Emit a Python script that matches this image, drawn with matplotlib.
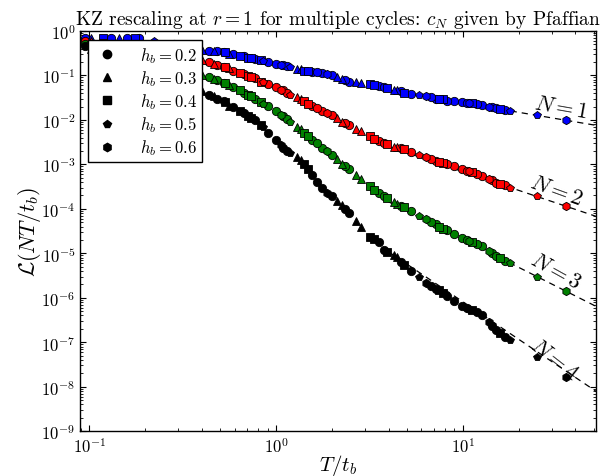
import matplotlib
matplotlib.use("Agg")
import matplotlib.pyplot as plt
from matplotlib.lines import Line2D

plt.rcParams['font.family'] = 'serif'
plt.rcParams['font.serif'] = ['cmr10']
plt.rcParams['mathtext.fontset'] = 'cm'
plt.rcParams['axes.formatter.use_mathtext'] = True

# T/t_b values for each h_b
x_h02 = [0.0952, 0.131, 0.160, 0.285, 0.438, 0.483, 0.589, 0.772, 0.906, 1.0, 1.09,
         1.56, 1.76, 1.99, 2.46, 3.56, 5.27, 7.17, 8.95, 9.88, 12.6, 14.3,
         0.185, 0.527, 0.674, 1.145, 1.66, 2.34, 3.78, 4.66, 6.75, 8.21, 10.5, 11.9, 15.0, 16.8]
x_h03 = [0.1025, 0.145, 0.351, 0.402, 1.30, 2.25, 2.68, 4.44,
         0.466, 0.561, 1.36, 2.12, 2.85, 4.28]
x_h04 = [0.119, 0.176, 0.533, 0.642, 0.708, 0.832, 1.41, 3.18, 3.92, 4.83, 7.82, 15.8,
         0.735, 1.48, 3.34, 7.44, 11.2]
x_h05 = [0.223, 1.19, 17.8, 24.9, 0.852, 5.82]
x_h06 = [6.34, 10.8, 35.6, 1.063, 1.87, 13.8]

# L(NT/t_b), one list per (h_b, N)
y_h02 = {
    1: [0.71, 0.68, 0.68, 0.52, 0.36, 0.35, 0.30, 0.24, 0.196, 0.177, 0.168, 0.117, 0.111,
        0.100, 0.073, 0.057, 0.039, 0.030, 0.026, 0.025, 0.0212, 0.0191,
        0.68, 0.33, 0.27, 0.159, 0.117, 0.077, 0.054, 0.044, 0.032, 0.027, 0.0235, 0.0223,
        0.0181, 0.0163],
    2: [0.61, 0.52, 0.45, 0.30, 0.196, 0.168, 0.129, 0.086, 0.063, 0.054, 0.046, 0.0201,
        0.0155, 0.0126, 0.0075, 0.0033, 0.00186, 0.00117, 0.00090, 0.00077, 0.00054, 0.00044,
        0.40, 0.151, 0.105, 0.041, 0.0181, 0.0083, 0.0030, 0.0023, 0.00129, 0.00100, 0.00070,
        0.00060, 0.00039, 0.00034],
    3: [0.52, 0.40, 0.33, 0.159, 0.090, 0.077, 0.054, 0.029, 0.0201, 0.0155, 0.0120, 0.0036,
        0.0023, 0.00159, 0.00077, 0.00023, 8.8e-5, 4.5e-5, 2.7e-5, 2.17e-5, 1.44e-5, 1.0e-5,
        0.28, 0.066, 0.041, 0.0103, 0.0030, 0.00090, 1.9e-4, 1.14e-4, 5.0e-5, 3.29e-5,
        1.96e-5, 1.59e-5, 8.6e-6, 6.6e-6],
    4: [0.45, 0.28, 0.21, 0.077, 0.037, 0.030, 0.0191, 0.0097, 0.0052, 0.0035, 0.0023, 5.7e-4,
        2.9e-4, 1.9e-4, 7.9e-5, 1.77e-5, 3.9e-6, 1.6e-6, 8.3e-7, 6.4e-7, 4.0e-7, 2.3e-7,
        0.159, 0.026, 0.0140, 0.00196, 4.1e-4, 9.7e-5, 1.17e-5, 6.3e-6, 1.8e-6, 1.1e-6,
        5.8e-7, 4.7e-7, 1.86e-7, 1.29e-7],
}
y_h03 = {
    1: [0.71, 0.68, 0.43, 0.38, 0.136, 0.081, 0.070, 0.046,
        0.35, 0.31, 0.136, 0.090, 0.066, 0.048],
    2: [0.58, 0.50, 0.24, 0.22, 0.032, 0.0092, 0.0064, 0.0024,
        0.177, 0.144, 0.029, 0.0108, 0.0055, 0.0025],
    3: [0.50, 0.36, 0.117, 0.100, 0.0071, 0.00100, 0.00057, 1.26e-4,
        0.081, 0.060, 0.0061, 0.00129, 4.6e-4, 1.40e-4],
    4: [0.40, 0.24, 0.054, 0.044, 0.00144, 1.2e-4, 5.2e-5, 8.1e-6,
        0.034, 0.0201, 0.00123, 1.48e-4, 3.84e-5, 9.0e-6],
}
y_h04 = {
    1: [0.71, 0.68, 0.33, 0.28, 0.25, 0.22, 0.129, 0.063, 0.051, 0.041, 0.029, 0.0172,
        0.25, 0.123, 0.060, 0.029, 0.0235],
    2: [0.55, 0.43, 0.151, 0.111, 0.095, 0.073, 0.026, 0.0043, 0.0028, 0.0022, 0.00105, 3.7e-4,
        0.090, 0.0223, 0.0038, 0.00111, 6.6e-4],
    3: [0.45, 0.30, 0.066, 0.046, 0.036, 0.025, 0.0052, 3.2e-4, 1.72e-4, 1.08e-4, 3.6e-5, 7.7e-6,
        0.034, 0.0043, 2.7e-4, 4.0e-5, 1.77e-5],
    4: [0.33, 0.177, 0.025, 0.0155, 0.0120, 0.0075, 0.00100, 2.3e-5, 1.05e-5, 5.4e-6, 1.3e-6,
        1.59e-7, 0.0108, 7.7e-4, 2.07e-5, 1.5e-6, 5.2e-7],
}
y_h05 = {
    1: [0.61, 0.151, 0.0155, 0.0126, 0.21, 0.036],
    2: [0.36, 0.037, 3.0e-4, 1.9e-4, 0.070, 0.00159],
    3: [0.22, 0.0092, 6.0e-6, 3.0e-6, 0.0223, 6.8e-5],
    4: [0.117, 0.00177, 1.11e-7, 4.6e-8, 0.0068, 2.9e-6],
}
y_h06 = {
    1: [0.034, 0.0235, 0.0097, 0.168, 0.105, 0.0191],
    2: [0.00144, 7.0e-4, 1.14e-4, 0.048, 0.0140, 4.6e-4],
    3: [5.8e-5, 1.86e-5, 1.4e-6, 0.0126, 0.00196, 1.11e-5],
    4: [2.2e-6, 5.5e-7, 1.63e-8, 0.0027, 2.3e-4, 2.8e-7],
}

hb_labels = ['0.2', '0.3', '0.4', '0.5', '0.6']
hb_markers = ['o', '^', 's', 'p', 'h']
n_colors = {1: 'blue', 2: 'red', 3: 'green', 4: 'black'}

# dashed asymptotic lines (end points)
fit_x = [4.0, 52.0]
fit_y = {
    1: [0.046, 0.0075],
    2: [0.0025, 6.7e-5],
    3: [1.44e-4, 6.3e-7],
    4: [1.08e-5, 7.7e-9],
}
label_x = [33.5, 31.8, 31.4, 30.8]
label_y = [0.0195, 2.7e-4, 4.0e-6, 4.3e-8]
label_rot = [-10, -20, -29, -38]

xs = [x_h02, x_h03, x_h04, x_h05, x_h06]
ys = [y_h02, y_h03, y_h04, y_h05, y_h06]

fig = plt.figure(figsize=(6.03, 4.77), dpi=100)
ax = fig.add_axes([0.133, 0.094, 0.855, 0.839])

for n in [1, 2, 3, 4]:
    ax.plot(fit_x, fit_y[n], 'k--', lw=0.9, zorder=1, dashes=(5, 4))

for x, y, m in zip(xs, ys, hb_markers):
    for n in [1, 2, 3, 4]:
        ax.plot(x, y[n], linestyle='none', marker=m, ms=6, mfc=n_colors[n],
                mec='black', mew=0.6, zorder=3)

for i, n in enumerate([1, 2, 3, 4]):
    ax.text(label_x[i], label_y[i], '$N = %d$' % n, fontsize=16, rotation=label_rot[i],
            ha='center', va='center', zorder=4)

ax.set_xscale('log')
ax.set_yscale('log')
ax.set_xlim(0.0895, 51.4)
ax.set_ylim(1e-9, 1)

ax.tick_params(which='both', direction='in', top=True, right=True, labelsize=12)
ax.tick_params(which='major', length=4.5, width=0.8)
ax.tick_params(which='minor', length=2.5, width=0.6)
for sp in ax.spines.values():
    sp.set_linewidth(1.0)

ax.set_xlabel('$T/t_b$', fontsize=15, labelpad=-2)
ax.set_ylabel(r'$\mathcal{L}(NT/t_b)$', fontsize=16, labelpad=-1)
ax.set_title('KZ rescaling at $r = 1$ for multiple cycles: $c_N$ given by Pfaffian',
             fontsize=14, pad=5)

handles = [Line2D([], [], linestyle='none', marker=m, ms=6, mfc='black', mec='black')
           for m in hb_markers]
leg = ax.legend(handles, ['$h_b = %s$' % h for h in hb_labels], loc='upper left',
                bbox_to_anchor=(0.0155, 0.9775), borderaxespad=0, fontsize=12,
                numpoints=1, fancybox=False, framealpha=1, edgecolor='black',
                labelspacing=0.2, handletextpad=1.2, borderpad=0.3, handlelength=1.6)
leg.get_frame().set_linewidth(1.0)
leg.set_zorder(10)

fig.savefig('out.png', dpi=100)
